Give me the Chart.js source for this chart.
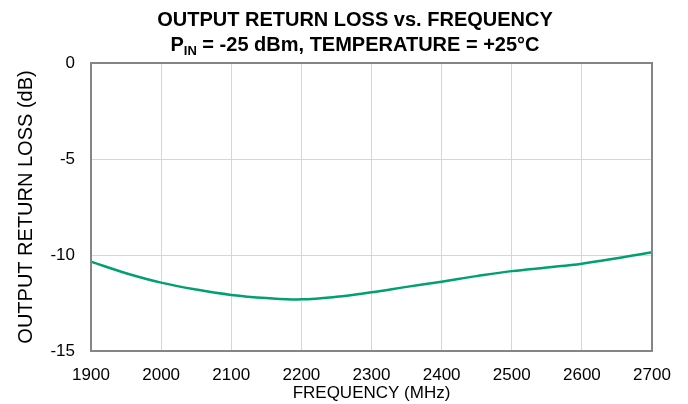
<!DOCTYPE html>
<html>
<head>
<meta charset="utf-8">
<script src="https://cdn.jsdelivr.net/npm/chart.js@4"></script>
<style>
  html, body { margin: 0; padding: 0; background: #fff; }
  #wrap { position: relative; width: 688px; height: 404px; }
  #title {
    position: absolute; left: 0; top: 7px; width: 688px;
    text-align: center; font: bold 20px "Liberation Sans", Arial, sans-serif;
    line-height: 25px; color: #000; padding-left: 22px; box-sizing: border-box;
  }
  #title sub { font-size: 13px; vertical-align: -4px; line-height: 0; }
</style>
</head>
<body>
<div id="wrap">
  <canvas id="myChart" width="688" height="404"></canvas>
  <div id="title">OUTPUT RETURN LOSS vs. FREQUENCY<br>P<sub>IN</sub> = -25 dBm, TEMPERATURE = +25°C</div>
</div>
<script>
// frequency in MHz, return loss in dB
const freq = [1900, 1950, 2000, 2050, 2100, 2150, 2200, 2250, 2300, 2350, 2400, 2450, 2500, 2550, 2600, 2650, 2700]
const returnLoss = [-10.35, -10.95, -11.44, -11.8, -12.08, -12.24, -12.31, -12.18, -11.94, -11.66, -11.39, -11.1, -10.84, -10.65, -10.45, -10.17, -9.86]

const xTicks = [1900, 2000, 2100, 2200, 2300, 2400, 2500, 2600, 2700]
const yTicks = [0, -5, -10, -15]

const tickFont = { family: "'Liberation Sans', Arial, sans-serif", size: 17 }

const points = freq.map(function (f, i) {
    return { x: f, y: returnLoss[i] }
})

const frameBox = {
    id: 'frameBox',
    afterDraw: function (chart) {
        const a = chart.chartArea
        const ctx = chart.ctx
        ctx.save()
        ctx.strokeStyle = '#858585'
        ctx.lineWidth = 2
        ctx.strokeRect(a.left, a.top, a.right - a.left, a.bottom - a.top)
        ctx.restore()
    }
}

const config = {
    type: 'line',
    data: {
        datasets: [{
            label: 'Output return loss',
            data: points,
            borderColor: 'rgb(0, 160, 112)',
            borderWidth: 2.5,
            pointRadius: 0,
            tension: 0.4,
            fill: false
        }]
    },
    options: {
        responsive: false,
        animation: false,
        layout: { padding: { top: 63, right: 36, left: 0, bottom: 0 } },
        plugins: {
            legend: { display: false },
            tooltip: { enabled: false }
        },
        scales: {
            x: {
                type: 'linear',
                min: 1900,
                max: 2700,
                afterBuildTicks: function (axis) {
                    axis.ticks = xTicks.map(function (v) { return { value: v } })
                },
                afterFit: function (axis) { axis.height = 53 },
                grid: { color: '#d6d6d6', lineWidth: 1, drawTicks: false },
                border: { display: false },
                ticks: {
                    color: '#000', font: tickFont, padding: 14, maxRotation: 0,
                    callback: function (v) { return String(v) }
                },
                title: {
                    display: true,
                    text: 'FREQUENCY (MHz)',
                    color: '#000',
                    font: { family: tickFont.family, size: 17 },
                    padding: { top: 0, bottom: 0 }
                }
            },
            y: {
                min: -15,
                max: 0,
                afterBuildTicks: function (axis) {
                    axis.ticks = yTicks.map(function (v) { return { value: v } })
                },
                afterFit: function (axis) { axis.width = 91 },
                grid: { color: '#d6d6d6', lineWidth: 1, drawTicks: false },
                border: { display: false },
                ticks: { color: '#000', font: tickFont, padding: 16 },
                title: {
                    display: true,
                    text: 'OUTPUT RETURN LOSS (dB)',
                    color: '#000',
                    font: { family: tickFont.family, size: 20 },
                    padding: { top: 14, bottom: 0 }
                }
            }
        }
    },
    plugins: [frameBox]
}

const myChart = new Chart(document.getElementById('myChart'), config)
</script>
</body>
</html>
